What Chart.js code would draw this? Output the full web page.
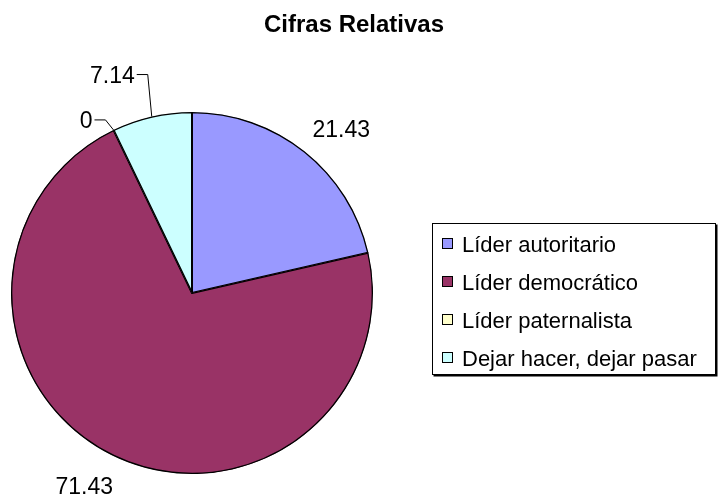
<!DOCTYPE html>
<html>
<head>
<meta charset="utf-8">
<script src="https://cdn.jsdelivr.net/npm/chart.js@4"></script>
<style>
  html, body { margin: 0; padding: 0; background: #fff; }
  #wrap { width: 719px; height: 499px; position: relative; }
</style>
</head>
<body>
<div id="wrap"><canvas id="pieChart" width="719" height="499"></canvas></div>
<script>
// chart data
const categories = ['Líder autoritario', 'Líder democrático', 'Líder paternalista', 'Dejar hacer, dejar pasar'];
const values = [21.43, 71.43, 0, 7.14];
const valueLabels = ['21.43', '71.43', '0', '7.14'];
const sliceColors = ['#9999FF', '#993366', '#FFFFCC', '#CCFFFF'];
const chartTitle = 'Cifras Relativas';

const FONT = '"Liberation Sans", Arial, sans-serif';

// draws title, value labels (with leader lines for the small slices) and the boxed legend
const excelLook = {
    id: 'excelLook',
    afterDraw(chart) {
        const ctx = chart.ctx;
        const meta = chart.getDatasetMeta(0);
        ctx.save();

        // title
        ctx.fillStyle = '#000';
        ctx.font = 'bold 24px ' + FONT;
        ctx.textAlign = 'center';
        ctx.textBaseline = 'alphabetic';
        ctx.fillText(chartTitle, 354, 32);

        // value labels
        ctx.font = '23px ' + FONT;
        meta.data.forEach((arc, i) => {
            const mid = (arc.startAngle + arc.endAngle) / 2;
            const r = arc.outerRadius;
            const cx = arc.x, cy = arc.y;
            const c = Math.cos(mid), s = Math.sin(mid);
            if (values[i] > 10) {
                // label corner sits just outside the arc, pulled a bit toward vertical
                const ax = cx + c * (r + 17) + (c > 0 ? -3 : 7);
                const ay = cy + s * (r + 17) + (s < 0 ? -1 : 6);
                ctx.textAlign = c > 0 ? 'left' : 'right';
                ctx.fillText(valueLabels[i], ax, s < 0 ? ay : ay + 17);
            } else {
                // leader line from the arc edge up and out to the label
                const ax = cx + c * r;
                const ay = cy + s * r;
                const big = values[i] > 0;
                const bx = ax - (big ? 4 : 8);
                const by = ay - (big ? 42 : 10);
                ctx.strokeStyle = '#000';
                ctx.lineWidth = 1;
                ctx.beginPath();
                ctx.moveTo(ax, ay);
                ctx.lineTo(bx, by);
                ctx.lineTo(bx - 11, by);
                ctx.stroke();
                ctx.textAlign = 'right';
                ctx.fillText(valueLabels[i], bx - 13, by + 8);
            }
        });

        // legend box
        const lx = 432.5, ly = 223.5, lw = 283, lh = 151;
        ctx.fillStyle = '#000';
        ctx.fillRect(lx + 1, ly + 1, lw + 1, lh + 1);
        ctx.fillStyle = '#fff';
        ctx.fillRect(lx, ly, lw, lh);
        ctx.strokeStyle = '#000';
        ctx.lineWidth = 1;
        ctx.strokeRect(lx, ly, lw, lh);

        ctx.font = '22px ' + FONT;
        ctx.textAlign = 'left';
        categories.forEach((name, i) => {
            const y = 252 + i * 38;
            ctx.fillStyle = sliceColors[i];
            ctx.fillRect(442.5, y - 13.5, 10, 10);
            ctx.strokeStyle = '#000';
            ctx.strokeRect(442.5, y - 13.5, 10, 10);
            ctx.fillStyle = '#000';
            ctx.fillText(name, 462, y);
        });
        ctx.restore();
    }
};

new Chart(document.getElementById('pieChart').getContext('2d'), {
    type: 'pie',
    data: {
        labels: categories,
        datasets: [{
            data: values,
            backgroundColor: sliceColors,
            borderColor: '#000',
            borderWidth: 1,
            borderAlign: 'inner'
        }]
    },
    options: {
        responsive: false,
        animation: false,
        layout: { padding: { left: 11, top: 112, right: 346, bottom: 25 } },
        plugins: {
            legend: { display: false },
            tooltip: { enabled: false }
        }
    },
    plugins: [excelLook]
});
</script>
</body>
</html>
